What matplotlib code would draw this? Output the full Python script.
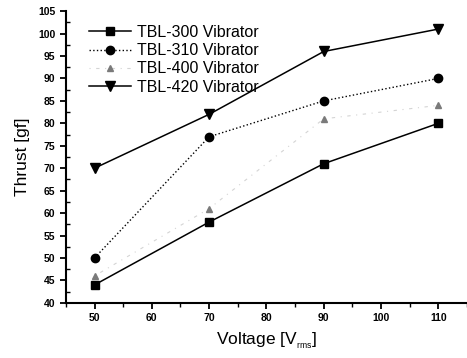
import matplotlib
matplotlib.use("Agg")
import matplotlib.pyplot as plt
from matplotlib.ticker import MultipleLocator

plt.rcParams['font.family'] = ['Liberation Sans', 'DejaVu Sans']
plt.rcParams['mathtext.fontset'] = 'custom'
plt.rcParams['mathtext.rm'] = 'Liberation Sans'

voltage = [50, 70, 90, 110]
tbl300 = [44, 58, 71, 80]
tbl310 = [50, 77, 85, 90]
tbl400 = [46, 61, 81, 84]
tbl420 = [70, 82, 96, 101]

fig = plt.figure(figsize=(4.67, 3.58), dpi=100)
ax = fig.add_axes([0.141, 0.154, 0.859, 0.815])

ax.plot(voltage, tbl300, color='black', lw=1.1, marker='s', ms=6, label='TBL-300 Vibrator')
ax.plot(voltage, tbl310, color='black', lw=1.0, ls=':', marker='o', ms=6, label='TBL-310 Vibrator')
ax.plot(voltage, tbl400, color='#d4d4d4', lw=0.8, ls=(0, (1, 5, 3, 5)), marker='^', ms=4,
        mfc='#7a7a7a', mec='#7a7a7a', label='TBL-400 Vibrator')
ax.plot(voltage, tbl420, color='black', lw=1.1, marker='v', ms=7, label='TBL-420 Vibrator')

ax.set_xlim(45, 115)
ax.set_ylim(40, 105)
ax.xaxis.set_major_locator(MultipleLocator(10))
ax.xaxis.set_minor_locator(MultipleLocator(5))
ax.yaxis.set_major_locator(MultipleLocator(5))
ax.yaxis.set_minor_locator(MultipleLocator(2.5))

for side in ['top', 'right']:
    ax.spines[side].set_visible(False)
for side in ['left', 'bottom']:
    ax.spines[side].set_linewidth(1.5)

ax.tick_params(axis='both', which='major', direction='out', length=4, width=1.3,
               labelsize=7.5)
ax.tick_params(axis='y', which='minor', direction='in', length=3, width=1.0)
ax.tick_params(axis='x', which='minor', direction='out', length=3, width=1.0)
for lab in ax.get_xticklabels() + ax.get_yticklabels():
    lab.set_fontweight('bold')

ax.set_xlabel('Voltage [V$_{\\mathregular{_{rms}}}$]', fontsize=12.5, labelpad=5)
ax.set_ylabel('Thrust [gf]', fontsize=12.5, labelpad=6)

ax.legend(loc='upper left', bbox_to_anchor=(0.035, 0.985), frameon=False, fontsize=11.5,
          handlelength=2.6, handletextpad=0.4, labelspacing=0.2, borderaxespad=0.2)

fig.savefig('out.png', dpi=100)
